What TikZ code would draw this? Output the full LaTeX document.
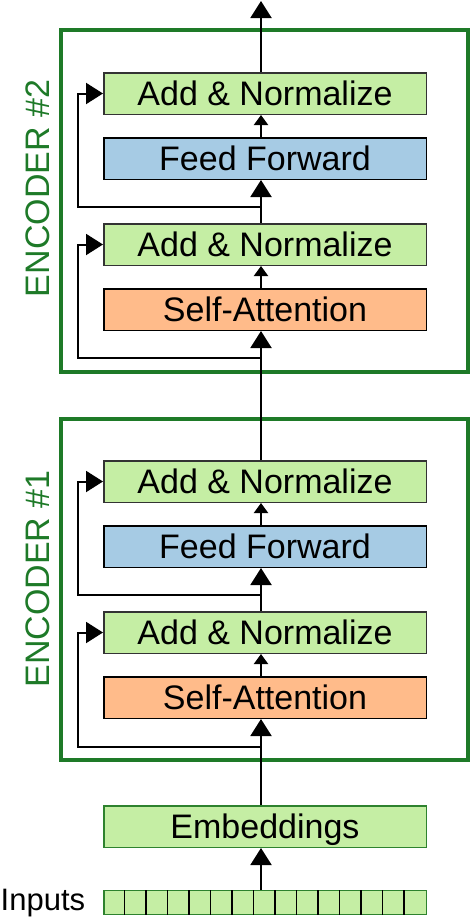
\documentclass[tikz,border=0pt]{standalone}
\usepackage{fontspec}
\setmainfont{Liberation Sans}
\usetikzlibrary{arrows.meta}
\definecolor{frameg}{RGB}{30,122,40}
\definecolor{boxg}{RGB}{197,238,164}
\definecolor{boxb}{RGB}{166,203,228}
\definecolor{boxo}{RGB}{255,187,138}
\definecolor{embg}{RGB}{46,130,46}
\begin{document}
\begin{tikzpicture}[x=1pt,y=-1pt,
 blk/.style={draw, line width=1.5pt, minimum width=322.5pt, minimum height=41.5pt, inner sep=0pt, text height=24.4pt, text depth=0pt, font=\fontsize{34}{40}\selectfont},
 addnorm/.style={blk, fill=boxg, draw=black!80},
 ffbox/.style={blk, fill=boxb, draw=black},
 sabox/.style={blk, fill=boxo, draw=black},
 embbox/.style={blk, fill=boxg, draw=embg},
 encframe/.style={draw=frameg, line width=4pt, inner sep=0pt, minimum width=407pt},
 enclabel/.style={rotate=90, text=frameg, inner sep=0pt, text height=24.4pt, text depth=0pt, font=\fontsize{34}{40}\selectfont},
 conn/.style={line width=2pt},
 big/.style={conn, -{Triangle[length=17pt,width=21pt]}},
 small/.style={conn, -{Triangle[length=10pt,width=14pt]}},
]
\useasboundingbox (0,0) rectangle (474,918);

% encoder frames
\node[encframe, minimum height=342pt] (enc2) at (264.5,201) {};
\node[encframe, minimum height=341pt] (enc1) at (264.5,589.5) {};

% encoder labels
\node[enclabel] (lab2) at (37,188.5) {ENCODER \#2};
\node[enclabel] (lab1) at (37,579) {ENCODER \#1};

% encoder 2 blocks
\node[addnorm] (an2b) at (265,93.5) {Add \& Normalize};
\node[ffbox] (ff2) at (265,158.5) {Feed Forward};
\node[addnorm] (an2a) at (265,244.5) {Add \& Normalize};
\node[sabox] (sa2) at (265,309.5) {Self-Attention};

% encoder 1 blocks
\node[addnorm] (an1b) at (265,481.5) {Add \& Normalize};
\node[ffbox] (ff1) at (265,546.5) {Feed Forward};
\node[addnorm] (an1a) at (265,632.5) {Add \& Normalize};
\node[sabox] (sa1) at (265,697.5) {Self-Attention};

% embeddings and inputs
\node[embbox] (emb) at (265,826.5) {Embeddings};
\node[embbox, minimum height=21.5pt] (inp) at (265,902.5) {};
\foreach \k in {1,...,14}
  \draw[line width=1.5pt] ([xshift=\k*21.5pt, yshift=-0.75pt]inp.north west) -- ([xshift=\k*21.5pt, yshift=0.75pt]inp.south west);
\node[anchor=base west, inner sep=0pt, font=\fontsize{31}{37}\selectfont] (inlab) at (0.5,910) {Inputs};

% helper coordinates
\coordinate (sp) at (261,0);
\coordinate (rail) at (78,0);
\coordinate (out) at (261,1);
\coordinate (r2a) at (261,358);
\coordinate (r2b) at (261,207);
\coordinate (r1a) at (261,747);
\coordinate (r1b) at (261,595);

% main spine
\draw[big] (inp.north -| sp) -- (emb.south -| sp);
\draw[big] (emb.north -| sp) -- (sa1.south -| sp);
\draw[small] (sa1.north -| sp) -- (an1a.south -| sp);
\draw[big] (an1a.north -| sp) -- (ff1.south -| sp);
\draw[small] (ff1.north -| sp) -- (an1b.south -| sp);
\draw[big] (an1b.north -| sp) -- (sa2.south -| sp);
\draw[small] (sa2.north -| sp) -- (an2a.south -| sp);
\draw[big] (an2a.north -| sp) -- (ff2.south -| sp);
\draw[small] (ff2.north -| sp) -- (an2b.south -| sp);
\draw[big] (an2b.north -| sp) -- (out);

% residual connections
\draw[big] (r1a) -- (r1a -| rail) |- (an1a.west);
\draw[big] (r1b) -- (r1b -| rail) |- (an1b.west);
\draw[big] (r2a) -- (r2a -| rail) |- (an2a.west);
\draw[big] (r2b) -- (r2b -| rail) |- (an2b.west);
\end{tikzpicture}
\end{document}
